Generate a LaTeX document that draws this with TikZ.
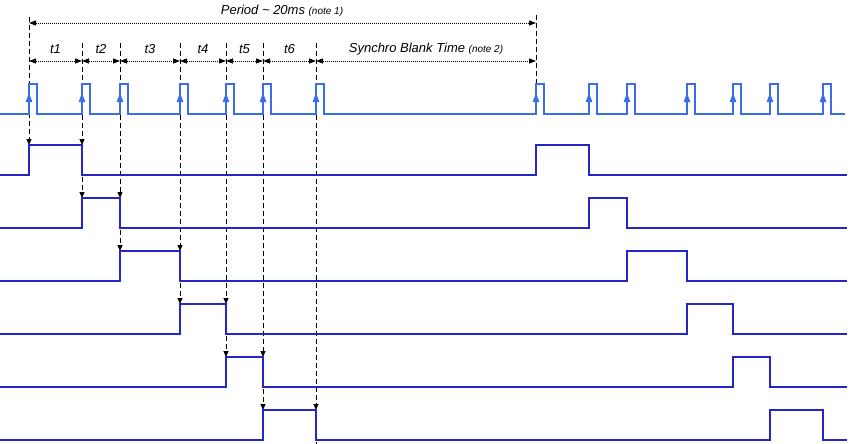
\documentclass[tikz,border=0pt]{standalone}
\usepackage{fontspec}
\setmainfont{Liberation Sans}
\usetikzlibrary{arrows.meta}
\definecolor{trig}{RGB}{58,110,232}
\definecolor{chan}{RGB}{37,37,200}
\newcommand{\notesz}{\fontsize{10}{12}\selectfont}

\begin{document}
\begin{tikzpicture}[x=1pt,y=-1pt,
		lbl/.style={font=\fontsize{13}{15}\selectfont\itshape, inner sep=1pt},
		span/.style={{Triangle[length=7pt,width=5pt]}-{Triangle[length=7pt,width=5pt]}, dash pattern=on 1pt off 1pt, line width=0.9pt},
		guide/.style={-{Triangle[length=6pt,width=5pt]}, dash pattern=on 5pt off 3pt, line width=1pt},
		guideplain/.style={dash pattern=on 5pt off 3pt, line width=1pt},
		sig/.style={chan, line width=1.5pt},
		trg/.style={trig, line width=1.4pt},
		trgtip/.style={trig, line width=1.2pt, -{Triangle[length=9pt,width=6.5pt]}}]
		\useasboundingbox (0,0) rectangle (864,444);

		% tops of the guide lines
		\coordinate (g0) at (29,17);
		\coordinate (g1) at (82,43);
		\coordinate (g2) at (120,43);
		\coordinate (g3) at (180,43);
		\coordinate (g4) at (226,43);
		\coordinate (g5) at (263,43);
		\coordinate (g6) at (316,43);
		\coordinate (g7) at (536,15);
		\coordinate (q7) at (536,84);
		\coordinate (z) at (316,444);

		% high level of each channel
		\coordinate (c1a) at (29,145);  \coordinate (c1b) at (82,145);
		\coordinate (c2a) at (82,198);  \coordinate (c2b) at (120,198);
		\coordinate (c3a) at (120,251); \coordinate (c3b) at (180,251);
		\coordinate (c4a) at (180,304); \coordinate (c4b) at (226,304);
		\coordinate (c5a) at (226,357); \coordinate (c5b) at (263,357);
		\coordinate (c6a) at (263,410); \coordinate (c6b) at (316,410);

		\path[guide] (g0) edge (c1a);
		\path[guide] (g1) edge (c1b);
		\path[guide] (c1b) edge (c2a);
		\path[guide] (g2) edge (c2b);
		\path[guide] (c2b) edge (c3a);
		\path[guide] (g3) edge (c3b);
		\path[guide] (c3b) edge (c4a);
		\path[guide] (g4) edge (c4b);
		\path[guide] (c4b) edge (c5a);
		\path[guide] (g5) edge (c5b);
		\path[guide] (c5b) edge (c6a);
		\path[guide] (g6) edge (c6b);
		\path[guideplain] (c6b) edge (z);
		\path[guideplain] (g7) edge (q7);

		% period
		\coordinate (pa) at (29,23);
		\coordinate (pb) at (536,23);
		\path[span] (pa) edge (pb);
		\node[lbl] (per) at (282,11) {Period \textasciitilde\ 20ms {\notesz(note 1)}};

		% slots
		\coordinate (t0) at (29,61);
		\coordinate (t1) at (82,61);
		\coordinate (t2) at (120,61);
		\coordinate (t3) at (180,61);
		\coordinate (t4) at (226,61);
		\coordinate (t5) at (263,61);
		\coordinate (t6) at (316,61);
		\coordinate (t7) at (536,61);
		\path[span] (t0) edge (t1);
		\path[span] (t1) edge (t2);
		\path[span] (t2) edge (t3);
		\path[span] (t3) edge (t4);
		\path[span] (t4) edge (t5);
		\path[span] (t5) edge (t6);
		\path[span] (t6) edge (t7);
		\node[lbl] (l1) at (55.5,49) {t1};
		\node[lbl] (l2) at (101,49) {t2};
		\node[lbl] (l3) at (150,49) {t3};
		\node[lbl] (l4) at (203,49) {t4};
		\node[lbl] (l5) at (244.5,49) {t5};
		\node[lbl] (l6) at (289.5,49) {t6};
		\node[lbl] (l7) at (426,49) {Synchro Blank Time {\notesz(note 2)}};

		% synchro pulses
		\draw[trg] (0,114) foreach \e in {29,82,120,180,226,263,316,536,589,627,687,733,770,823} { -- (\e,114) -- (\e,84) -- (\e+8,84) -- (\e+8,114) } -- (845,114);
		\foreach \e in {29,82,120,180,226,263,316,536,589,627,687,733,770,823}
			\draw[trgtip] (\e,112) -- (\e,93);

		% channels
		\draw[sig] (0,175) -- (29,175) -- (c1a) -- (c1b) -- (82,175) -- (536,175) -- (536,145) -- (589,145) -- (589,175) -- (847,175);
		\draw[sig] (0,228) -- (82,228) -- (c2a) -- (c2b) -- (120,228) -- (589,228) -- (589,198) -- (627,198) -- (627,228) -- (847,228);
		\draw[sig] (0,281) -- (120,281) -- (c3a) -- (c3b) -- (180,281) -- (627,281) -- (627,251) -- (687,251) -- (687,281) -- (847,281);
		\draw[sig] (0,334) -- (180,334) -- (c4a) -- (c4b) -- (226,334) -- (687,334) -- (687,304) -- (733,304) -- (733,334) -- (847,334);
		\draw[sig] (0,387) -- (226,387) -- (c5a) -- (c5b) -- (263,387) -- (733,387) -- (733,357) -- (770,357) -- (770,387) -- (847,387);
		\draw[sig] (0,440) -- (263,440) -- (c6a) -- (c6b) -- (316,440) -- (770,440) -- (770,410) -- (823,410) -- (823,440) -- (847,440);
	\end{tikzpicture}
\end{document}
